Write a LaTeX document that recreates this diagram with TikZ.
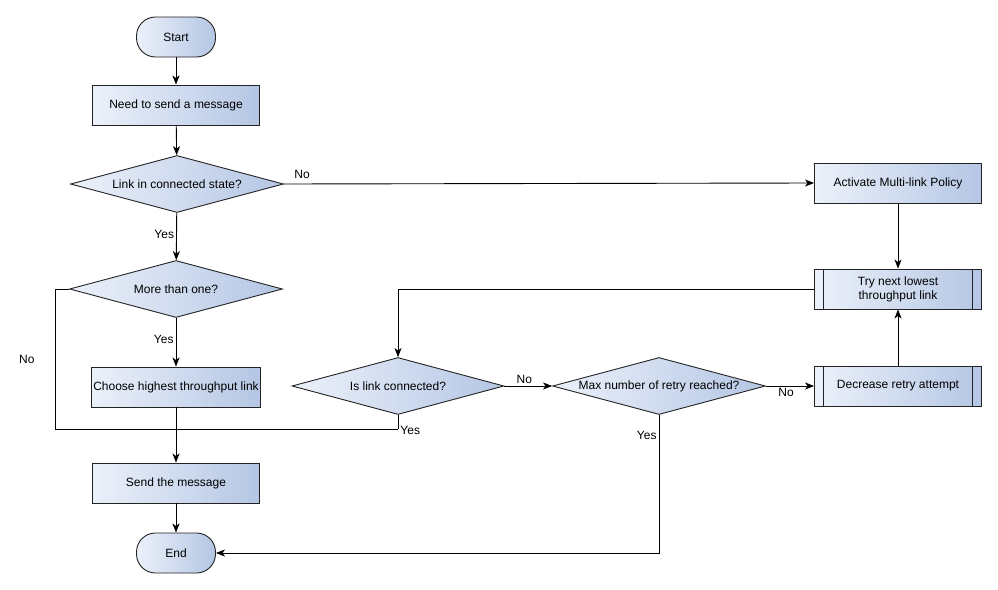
\documentclass[tikz,border=0pt]{standalone}
\usepackage{fontspec}
\setmainfont{Liberation Sans}
\usetikzlibrary{shapes.geometric,arrows.meta}
\definecolor{fillL}{RGB}{236,241,250}
\definecolor{fillR}{RGB}{180,198,228}
\definecolor{edgec}{RGB}{35,35,35}
\tikzset{
  base/.style={draw=edgec, line width=0.9pt, left color=fillL, right color=fillR, font=\fontsize{12}{14}\selectfont, inner sep=2pt},
  procbox/.style={base, rectangle, minimum width=167pt, minimum height=40pt},
  termbox/.style={base, rectangle, rounded corners=19pt, minimum width=79pt, minimum height=40pt},
  decbox/.style={base, diamond, aspect=3.7, inner sep=0pt, minimum width=213pt, minimum height=57pt},
  predbox/.style={procbox, align=center, path picture={
      \draw[edgec, line width=0.9pt] ([xshift=9pt]path picture bounding box.north west) -- ([xshift=9pt]path picture bounding box.south west);
      \draw[edgec, line width=0.9pt] ([xshift=-9pt]path picture bounding box.north east) -- ([xshift=-9pt]path picture bounding box.south east);}},
  conn/.style={draw=black, line width=0.9pt},
  arr/.style={conn, -{Stealth[length=9pt, width=7pt, inset=2.5pt]}},
  lbl/.style={font=\fontsize{12}{14}\selectfont, inner sep=2pt}
}
\begin{document}
\begin{tikzpicture}[x=1pt, y=-1pt]
\useasboundingbox[fill=white] (0,0) rectangle (998,589);
\node[termbox] (start) at (176,37) {Start};
\node[procbox] (need) at (176,105) {Need to send a message};
\node[decbox] (d1) at (177,184) {Link in connected state?};
\node[decbox] (d2) at (176,289) {More than one?};
\node[procbox] (choose) at (176,387) {Choose highest throughput link};
\node[procbox] (send) at (176,483) {Send the message};
\node[termbox] (end) at (176,553) {End};
\node[procbox] (act) at (898,183) {Activate Multi-link Policy};
\node[predbox] (try) at (898,289) {Try next lowest\\throughput link};
\node[predbox] (dec) at (898,386) {Decrease retry attempt};
\node[decbox, minimum width=212pt] (isl) at (398,386) {Is link connected?};
\node[decbox] (max) at (659,386) {Max number of retry reached?};
\coordinate (cNoL1) at (55,289);
\coordinate (cNoL2) at (55,429);
\coordinate (cJoin) at (398,429);

\draw[arr] (start) -- (need);
\draw[arr] (need) -- (d1);
\draw[arr] (d1) -- node[lbl, left, pos=0.45] {Yes} (d2);
\draw[arr] (d1.east) -- node[lbl, pos=0, above right, xshift=8pt, yshift=3pt] {No} (act.west);
\draw[arr] (d2) -- node[lbl, left, pos=0.45] {Yes} (choose);
\draw[arr] (choose) -- (send);
\draw[conn] (d2.west) -- (cNoL1) -- node[lbl, left, xshift=-18pt] {No} (cNoL2) -- (cJoin);
\draw[conn] (isl.south) -- node[lbl, pos=1, right, yshift=-1pt] {Yes} (cJoin);
\draw[arr] (send) -- (end);
\draw[arr] (act) -- (try);
\draw[arr] (try.west) -| (isl.north);
\draw[arr] (isl.east) -- node[lbl, above, xshift=-4pt] {No} (max.west);
\draw[arr] (max.east) -- node[lbl, below, xshift=-4pt] {No} (dec.west);
\draw[arr] (dec) -- (try);
\draw[arr] (max.south) |- node[lbl, pos=0.075, left] {Yes} (end.east);
\end{tikzpicture}
\end{document}
